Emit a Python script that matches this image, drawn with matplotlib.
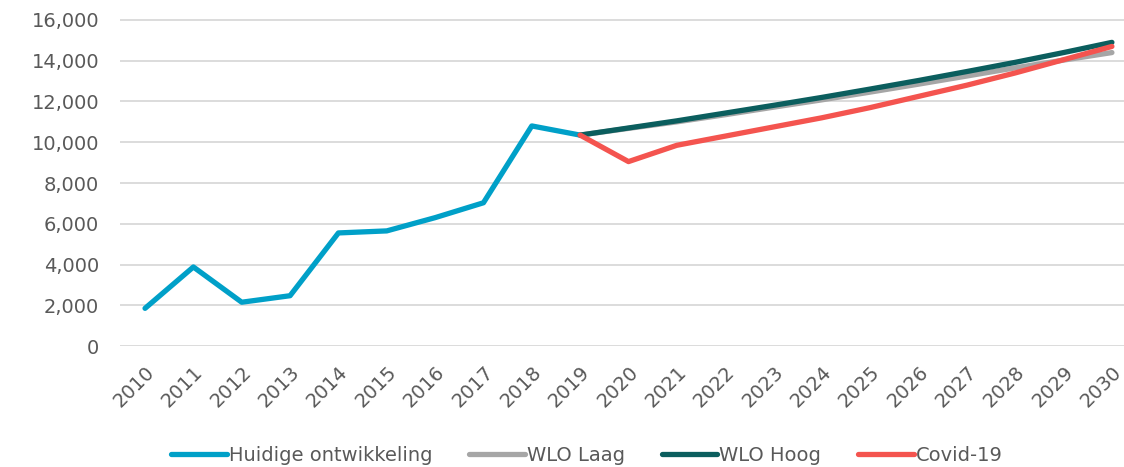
import matplotlib.pyplot as plt
import matplotlib.transforms as mtrans
from matplotlib.ticker import FuncFormatter

YEARS_HIST = list(range(2010, 2020))
HUIDIG = [1850, 3880, 2150, 2470, 5550, 5650, 6300, 7030, 10800, 10350]

YEARS_PROG = list(range(2019, 2031))
WLO_LAAG = [10350, 10680, 11000, 11350, 11720, 12080, 12460, 12850, 13250, 13650, 14030, 14400]
WLO_HOOG = [10350, 10700, 11050, 11430, 11810, 12200, 12610, 13030, 13470, 13920, 14400, 14900]
COVID = [10350, 9050, 9850, 10300, 10750, 11200, 11700, 12250, 12800, 13400, 14050, 14700]

COLORS = {'Huidige ontwikkeling': '#00a0c8', 'WLO Laag': '#a6a6a6',
          'WLO Hoog': '#0b5e5e', 'Covid-19': '#f4544f'}
TEXT_COLOR = '#595959'

plt.rcParams['font.family'] = ['DejaVu Sans']

fig = plt.figure(figsize=(11.24, 4.67), dpi=100)
ax = fig.add_axes([0.1068, 0.259, 1 - 0.1068, 0.966 - 0.259])

lw = 3.8
ax.plot(YEARS_HIST, HUIDIG, color=COLORS['Huidige ontwikkeling'], lw=lw,
        solid_capstyle='round', solid_joinstyle='round', label='Huidige ontwikkeling', zorder=3)
ax.plot(YEARS_PROG, WLO_LAAG, color=COLORS['WLO Laag'], lw=lw,
        solid_capstyle='round', label='WLO Laag', zorder=3)
ax.plot(YEARS_PROG, WLO_HOOG, color=COLORS['WLO Hoog'], lw=lw,
        solid_capstyle='round', label='WLO Hoog', zorder=4)
ax.plot(YEARS_PROG, COVID, color=COLORS['Covid-19'], lw=lw,
        solid_capstyle='round', solid_joinstyle='round', label='Covid-19', zorder=5)

ax.set_ylim(0, 16200)
ax.set_xlim(2009.483, 2030.25)
ax.set_yticks(range(0, 16001, 2000))
ax.yaxis.set_major_formatter(FuncFormatter(lambda v, p: f'{int(v):,}'))
ax.set_xticks(range(2010, 2031))
ax.set_xticklabels([str(y) for y in range(2010, 2031)], rotation=45,
                   ha='right', va='top', rotation_mode='anchor')
shift = mtrans.ScaledTranslation(-5 / 100, 0, fig.dpi_scale_trans)
for lab in ax.get_xticklabels():
    lab.set_transform(lab.get_transform() + shift)
ax.grid(axis='y', color='#d9d9d9', lw=1.3, zorder=0)
ax.set_axisbelow(True)
for s in ax.spines.values():
    s.set_visible(False)
ax.tick_params(axis='both', length=0, labelsize=14, colors=TEXT_COLOR)
ax.tick_params(axis='y', pad=15)
ax.tick_params(axis='x', pad=12)

leg = fig.legend(loc='center', bbox_to_anchor=(0.522, 0.025), ncol=4, frameon=False,
                 fontsize=14, handlelength=2.86, handletextpad=0.1, columnspacing=1.9)
for t in leg.get_texts():
    t.set_color(TEXT_COLOR)

fig.savefig('out.png', dpi=100)
